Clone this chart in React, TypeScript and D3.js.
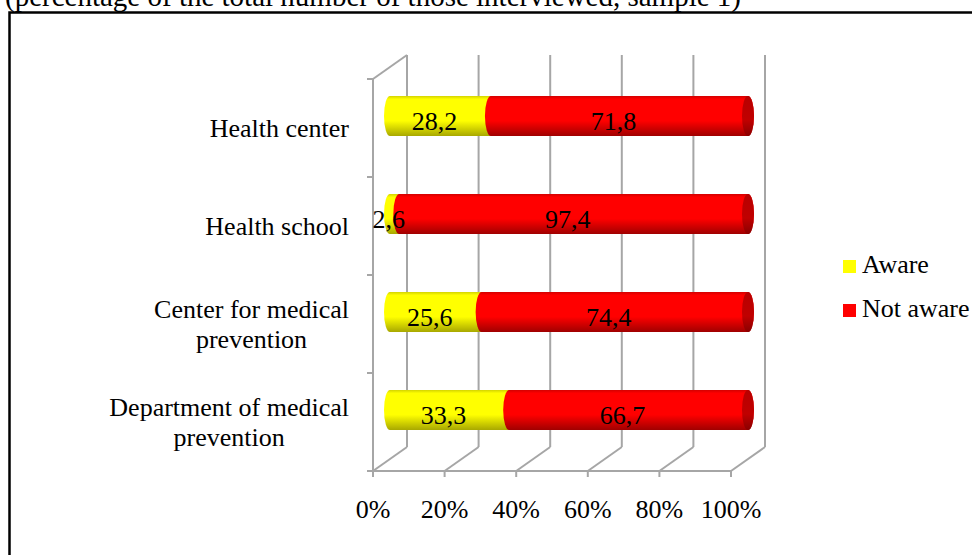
import React from "react";
import * as d3 from "d3";

const title = "(percentage of the total number of those interviewed, sample 1)";
const categories = ["Health center", "Health school", "Center for medical prevention", "Department of medical prevention"];
const categoryLines = [["Health center"], ["Health school"], ["Center for medical", "prevention"], ["Department of medical", "prevention"]];
const aware = [28.2, 2.6, 25.6, 33.3];
const notAware = [71.8, 97.4, 74.4, 66.7];
const awareLabels = ["28,2", "2,6", "25,6", "33,3"];
const notAwareLabels = ["71,8", "97,4", "74,4", "66,7"];
const tickValues = [0, 20, 40, 60, 80, 100];
const tickLabels = ["0%", "20%", "40%", "60%", "80%", "100%"];
const seriesNames = ["Aware", "Not aware"];

const FONT = "'Liberation Serif', 'Times New Roman', serif";
const W = 972;
const H = 555;

function measure(text: string, size: number): number {
  const c = document.createElement("canvas").getContext("2d");
  if (!c) return text.length * size * 0.45;
  c.font = `${size}px 'Liberation Serif'`;
  return c.measureText(text).width;
}

export default function App() {
  // front plane scales
  const xF = d3.scaleLinear().domain([0, 100]).range([373, 731]);
  const yF = d3.scaleBand<string>().domain(categories).range([79, 471]).paddingInner(0).paddingOuter(0);
  const DX = 34, DY = -24; // depth offset to back wall
  const mx = (v: number) => xF(v) + DX / 2;
  const yTop = 79, yBot = 471;
  const R = 20, RX = 6;
  const grid = "#a6a6a6";

  const cyl = (x0: number, x1: number, c: number) =>
    `M${x0},${c - R} L${x1},${c - R} A${RX},${R} 0 0 1 ${x1},${c + R} L${x0},${c + R} A${RX},${R} 0 0 1 ${x0},${c - R} Z`;

  return (
    <div style={{ position: "absolute", left: 0, top: 0 }}>
      <svg width={W} height={H} style={{ display: "block", background: "#fff" }}>
        <defs>
          <linearGradient id="gy" x1="0" y1="0" x2="0" y2="1">
            <stop offset="0" stopColor="#d4d400" />
            <stop offset="0.08" stopColor="#ffff00" />
            <stop offset="0.62" stopColor="#ffff00" />
            <stop offset="1" stopColor="#a8a800" />
          </linearGradient>
          <linearGradient id="gr" x1="0" y1="0" x2="0" y2="1">
            <stop offset="0" stopColor="#d40000" />
            <stop offset="0.08" stopColor="#ff0000" />
            <stop offset="0.62" stopColor="#ff0000" />
            <stop offset="1" stopColor="#a00000" />
          </linearGradient>
          <linearGradient id="gc" x1="0" y1="0" x2="0" y2="1">
            <stop offset="0" stopColor="#b80000" />
            <stop offset="0.6" stopColor="#c00000" />
            <stop offset="1" stopColor="#8a0000" />
          </linearGradient>
        </defs>

        {/* title (cut at top, as in the original) */}
        <text x={5} y={6} fontFamily={FONT} fontSize={29} fill="#000">{title}</text>

        {/* border */}
        <rect x={9.5} y={12.5} width={1000} height={700} fill="none" stroke="#000" strokeWidth={2.5} />

        {/* back wall gridlines */}
        {tickValues.map((v) => (
          <line key={"g" + v} x1={xF(v) + DX} x2={xF(v) + DX} y1={yTop + DY} y2={yBot + DY} stroke={grid} strokeWidth={2} />
        ))}
        {/* floor diagonals */}
        {tickValues.map((v) => (
          <line key={"f" + v} x1={xF(v)} x2={xF(v) + DX} y1={yBot} y2={yBot + DY} stroke={grid} strokeWidth={2} />
        ))}
        {/* left wall */}
        <line x1={xF(0)} x2={xF(0)} y1={yTop} y2={yBot} stroke={grid} strokeWidth={2} />
        <line x1={xF(0)} x2={xF(0) + DX} y1={yTop} y2={yTop + DY} stroke={grid} strokeWidth={2} />
        {/* front floor edge */}
        <line x1={xF(0)} x2={xF(100)} y1={yBot} y2={yBot} stroke={grid} strokeWidth={2} />
        {tickValues.map((v) => (
          <line key={"t" + v} x1={xF(v)} x2={xF(v)} y1={yBot} y2={yBot + 6} stroke={grid} strokeWidth={2} />
        ))}
        {/* category ticks */}
        {[...categories.map((c) => yF(c) as number), yBot].map((y, i) => (
          <line key={"ct" + i} x1={xF(0) - 6} x2={xF(0)} y1={y} y2={y} stroke={grid} strokeWidth={2} />
        ))}

        {/* bars */}
        {categories.map((c, i) => {
          const yc = (yF(c) as number) + yF.bandwidth() / 2 + DY / 2;
          const a0 = mx(0), a1 = mx(aware[i]), b1 = mx(aware[i] + notAware[i]);
          return (
            <g key={"b" + i}>
              <path d={cyl(a0, a1, yc)} fill="url(#gy)" />
              <path d={cyl(a1, b1, yc)} fill="url(#gr)" />
              <ellipse cx={b1} cy={yc} rx={RX} ry={R} fill="url(#gc)" />
              <text x={(a0 + a1) / 2 - 6} y={yc + 14} textAnchor="middle" fontFamily={FONT} fontSize={26} fill="#000">{awareLabels[i]}</text>
              <text x={(a1 + b1) / 2 - 6} y={yc + 14} textAnchor="middle" fontFamily={FONT} fontSize={26} fill="#000">{notAwareLabels[i]}</text>
            </g>
          );
        })}

        {/* category labels */}
        {categories.map((c, i) => {
          const lines = categoryLines[i];
          const yc = (yF(c) as number) + yF.bandwidth() / 2;
          const maxW = Math.max(...lines.map((l) => measure(l, 26)));
          const cx = 349 - maxW / 2;
          const b0 = yc + 9 - (lines.length - 1) * 15;
          return (
            <text key={"cl" + i} fontFamily={FONT} fontSize={26} fill="#000" textAnchor="middle">
              {lines.map((l, j) => (
                <tspan key={j} x={cx} y={b0 + j * 30}>{l}</tspan>
              ))}
            </text>
          );
        })}

        {/* x tick labels */}
        {tickValues.map((v, i) => (
          <text key={"xl" + v} x={xF(v)} y={518} textAnchor="middle" fontFamily={FONT} fontSize={26} fill="#000">{tickLabels[i]}</text>
        ))}

        {/* legend */}
        {seriesNames.map((s, i) => (
          <g key={"lg" + i}>
            <rect x={843} y={260 + i * 44} width={13} height={13} fill={i === 0 ? "#ffff00" : "#ff0000"} />
            <text x={862} y={273 + i * 43.5} fontFamily={FONT} fontSize={26} fill="#000">{s}</text>
          </g>
        ))}
      </svg>
    </div>
  );
}
